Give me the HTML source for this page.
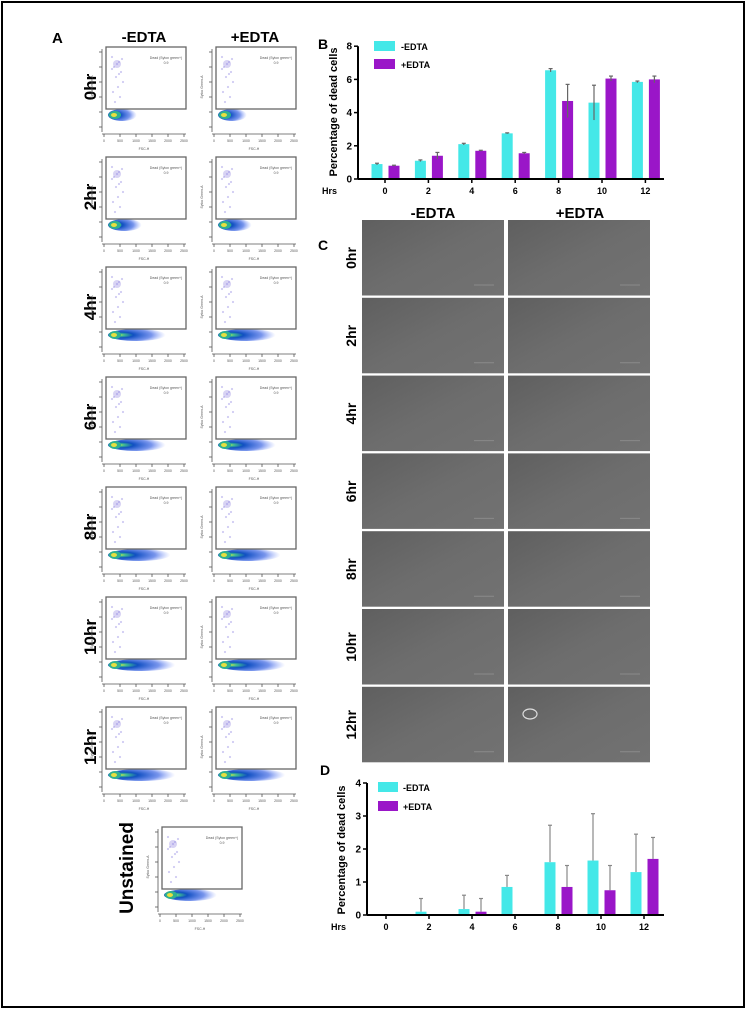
<!DOCTYPE html>
<html><head><meta charset="utf-8">
<style>
body{margin:0;background:#fff;}
svg{display:block;font-family:"Liberation Sans",sans-serif;}
</style></head>
<body>
<svg id="fig" width="747" height="1010" viewBox="0 0 747 1010">
<defs>
<radialGradient id="blob" cx="0.2" cy="0.5" r="0.8">
<stop offset="0" stop-color="#f0e040"/>
<stop offset="0.1" stop-color="#40c090"/>
<stop offset="0.3" stop-color="#1050c0"/>
<stop offset="0.7" stop-color="#2050e0" stop-opacity="0.6"/>
<stop offset="1" stop-color="#6080ff" stop-opacity="0"/>
</radialGradient>
<linearGradient id="micro" x1="0" y1="0" x2="1" y2="1">
<stop offset="0" stop-color="#5f5f5f"/>
<stop offset="0.5" stop-color="#6d6d6d"/>
<stop offset="1" stop-color="#727272"/>
</linearGradient>
</defs>
<rect x="2" y="2" width="742" height="1005" fill="#fff" stroke="#000" stroke-width="2"/>
<g id="panelA"></g>
<g id="panelB"></g>
<g id="panelC"></g>
<g id="panelD"></g>
</svg>
<script>
const rowLabels = ["0hr","2hr","4hr","6hr","8hr","10hr","12hr"];
const hours = ["0","2","4","6","8","10","12"];
const bMinus = [0.9,1.1,2.1,2.75,6.55,4.6,5.85];
const bMinusErr = [0.05,0.05,0.05,0.03,0.1,1.05,0.05];
const bPlus = [0.8,1.4,1.7,1.55,4.7,6.05,6.0];
const bPlusErr = [0.03,0.2,0.03,0.05,1.0,0.15,0.2];
const bTicks = [0,2,4,6,8];
const dMinus = [0,0.1,0.18,0.85,1.6,1.65,1.3];
const dMinusErr = [0,0.4,0.42,0.35,1.12,1.42,1.15];
const dPlus = [0,0,0.1,0,0.85,0.75,1.7];
const dPlusErr = [0,0,0.4,0,0.65,0.75,0.65];
const dTicks = [0,1,2,3,4];

const NS="http://www.w3.org/2000/svg";
function mk(parent,tag,attrs,text){const e=document.createElementNS(NS,tag);for(const k in attrs)e.setAttribute(k,attrs[k]);if(text!==undefined)e.textContent=text;parent.appendChild(e);return e;}

// ---------- Panel A ----------
const A=document.getElementById('panelA');
let t;
t=mk(A,'text',{x:52,y:43,'font-size':15,'font-weight':'bold'},'A');


t=mk(A,'text',{x:144,y:42,'font-size':15,'font-weight':'bold','text-anchor':'middle'},'-EDTA');


t=mk(A,'text',{x:255,y:42,'font-size':15,'font-weight':'bold','text-anchor':'middle'},'+EDTA');



function flowPlot(x0,y0,spread,name){
  const g=mk(A,'g',{});
  
  
  for(let i=0;i<14;i++){
    mk(g,'circle',{cx:x0+6+(i*7)%12,cy:y0+10+(i*5)%48,r:1.1,fill:'#8a80e0','fill-opacity':0.4});
  }
  mk(g,'ellipse',{cx:x0+11,cy:y0+17,rx:4,ry:4,fill:'#9080e0','fill-opacity':0.35});
  const rx=12+spread*1.2;
  mk(g,'ellipse',{cx:x0+2+rx,cy:y0+68,rx:rx,ry:6,fill:'url(#blob)'});
  mk(g,'ellipse',{cx:x0+9,cy:y0+68,rx:6,ry:4,fill:'#30b090'});
  mk(g,'ellipse',{cx:x0+8,cy:y0+68,rx:3,ry:2,fill:'#e8e040'});
  mk(g,'rect',{x:x0,y:y0,width:80,height:62,fill:'none',stroke:'#666','stroke-width':1.3});
  mk(g,'text',{x:x0+60,y:y0+12,'font-size':3.5,fill:'#555','text-anchor':'middle'},'Dead (Sytox green+)');
  mk(g,'text',{x:x0+60,y:y0+17,'font-size':3.5,fill:'#555','text-anchor':'middle'},'0.9');
  mk(g,'line',{x1:x0-4,y1:y0+2,x2:x0-4,y2:y0+85,stroke:'#555','stroke-width':0.8});
  mk(g,'line',{x1:x0-4,y1:y0+87,x2:x0+80,y2:y0+87,stroke:'#555','stroke-width':0.8});
  for(let i=0;i<6;i++){mk(g,'line',{x1:x0-2+i*16,y1:y0+87,x2:x0-2+i*16,y2:y0+90,stroke:'#555','stroke-width':0.8});
    mk(g,'text',{x:x0-2+i*16,y:y0+95,'font-size':3.5,fill:'#555','text-anchor':'middle'},i*500);}
  for(let i=0;i<6;i++){mk(g,'line',{x1:x0-7,y1:y0+5+i*15,x2:x0-4,y2:y0+5+i*15,stroke:'#555','stroke-width':0.8});}
  mk(g,'text',{x:x0+38,y:y0+103,'font-size':3.5,fill:'#555','text-anchor':'middle'},'FSC-H');
  mk(g,'text',{x:0,y:0,'font-size':3.5,fill:'#555','text-anchor':'middle',transform:`translate(${x0-13},${y0+40}) rotate(-90)`},'Sytox Green-A');
}
const spreads=[2,4,14,14,16,18,18];
rowLabels.forEach((lab,i)=>{
  const y0=47+i*110;
  t=mk(A,'text',{x:0,y:0,'font-size':17,'font-weight':'bold','text-anchor':'middle',transform:`translate(${96},${y0+40}) rotate(-90)`},lab);
  
  
  flowPlot(106,y0,spreads[i],'flow-plot-minus-edta-'+lab);
  flowPlot(216,y0,spreads[i],'flow-plot-plus-edta-'+lab);
});
t=mk(A,'text',{x:0,y:0,'font-size':19,'font-weight':'bold','text-anchor':'middle',transform:`translate(${133},${868}) rotate(-90)`},'Unstained');


flowPlot(162,827,12,'flow-plot-unstained');

// ---------- bar chart helper ----------
function barChart(G,cfg){
  const {x0,xEnd,yBase,pxPerUnit,tickX0,tickStep,minus,minusErr,plus,plusErr,ticks,errColor,errBoth,prefix}=cfg;
  const ys=v=>yBase-v*pxPerUnit;
  const xs=i=>tickX0+i*tickStep;
  minus.forEach((v,i)=>{
    const cx=xs(i)-8;
    const e=minusErr[i];
    if(e>0 && !errBoth){
      mk(G,'line',{x1:cx,y1:ys(v),x2:cx,y2:ys(v+e),stroke:errColor,'stroke-width':1.2});
      mk(G,'line',{x1:cx-2,y1:ys(v+e),x2:cx+2,y2:ys(v+e),stroke:errColor,'stroke-width':1.2});
    }
    const r=mk(G,'rect',{x:cx-5.5,y:ys(v),width:11,height:v*pxPerUnit,fill:'#44e8e8'});
    
    
    if(e>0 && errBoth){
      mk(G,'line',{x1:cx,y1:ys(v-e),x2:cx,y2:ys(v+e),stroke:errColor,'stroke-width':1.2});
      mk(G,'line',{x1:cx-2,y1:ys(v+e),x2:cx+2,y2:ys(v+e),stroke:errColor,'stroke-width':1.2});
    }
  });
  plus.forEach((v,i)=>{
    const cx=xs(i)+9;
    const e=plusErr[i];
    if(e>0 && !errBoth){
      mk(G,'line',{x1:cx,y1:ys(v),x2:cx,y2:ys(v+e),stroke:errColor,'stroke-width':1.2});
      mk(G,'line',{x1:cx-2,y1:ys(v+e),x2:cx+2,y2:ys(v+e),stroke:errColor,'stroke-width':1.2});
    }
    const r=mk(G,'rect',{x:cx-5.5,y:ys(v),width:11,height:v*pxPerUnit,fill:'#9a16c8'});
    
    
    if(e>0 && errBoth){
      mk(G,'line',{x1:cx,y1:ys(v-e),x2:cx,y2:ys(v+e),stroke:errColor,'stroke-width':1.2});
      mk(G,'line',{x1:cx-2,y1:ys(v+e),x2:cx+2,y2:ys(v+e),stroke:errColor,'stroke-width':1.2});
    }
  });
  const ya=mk(G,'line',{x1:x0,y1:ys(ticks[ticks.length-1]),x2:x0,y2:yBase,stroke:'#000','stroke-width':2});
  
  
  const xa=mk(G,'line',{x1:x0,y1:yBase,x2:xEnd,y2:yBase,stroke:'#000','stroke-width':2});
  
  
  ticks.forEach(v=>{
    mk(G,'line',{x1:x0-4,y1:ys(v),x2:x0,y2:ys(v),stroke:'#000','stroke-width':1.5});
    const tt=mk(G,'text',{x:x0-6,y:ys(v)+3.5,'font-size':10,'font-weight':'bold','text-anchor':'end'},v);
    
    
  });
  hours.forEach((h,i)=>{
    mk(G,'line',{x1:xs(i),y1:yBase,x2:xs(i),y2:yBase+4,stroke:'#000','stroke-width':1.5});
    const tt=mk(G,'text',{x:xs(i),y:yBase+15,'font-size':9,'font-weight':'bold','text-anchor':'middle'},h);
    
    
  });
  const hr=mk(G,'text',{x:x0-36,y:yBase+15,'font-size':9,'font-weight':'bold'},'Hrs');
  
  
}

// ---------- Panel B ----------
const B=document.getElementById('panelB');
t=mk(B,'text',{x:318,y:49,'font-size':14,'font-weight':'bold'},'B');


barChart(B,{x0:358,xEnd:664,yBase:179,pxPerUnit:16.6,tickX0:385,tickStep:43.4,minus:bMinus,minusErr:bMinusErr,plus:bPlus,plusErr:bPlusErr,ticks:bTicks,errColor:'#666',errBoth:true,prefix:'b'});
t=mk(B,'text',{x:0,y:0,'font-size':11,'font-weight':'bold','text-anchor':'middle',transform:'translate(337,112) rotate(-90)'},'Percentage of dead cells');


t=mk(B,'rect',{x:374,y:41,width:21,height:10,fill:'#44e8e8'});


t=mk(B,'text',{x:401,y:50,'font-size':9,'font-weight':'bold'},'-EDTA');


t=mk(B,'rect',{x:374,y:59,width:21,height:10,fill:'#9a16c8'});


t=mk(B,'text',{x:401,y:68,'font-size':9,'font-weight':'bold'},'+EDTA');



// ---------- Panel C ----------
const C=document.getElementById('panelC');
t=mk(C,'text',{x:318,y:250,'font-size':14,'font-weight':'bold'},'C');


t=mk(C,'text',{x:433,y:218,'font-size':15,'font-weight':'bold','text-anchor':'middle'},'-EDTA');


t=mk(C,'text',{x:580,y:218,'font-size':15,'font-weight':'bold','text-anchor':'middle'},'+EDTA');


rowLabels.forEach((lab,i)=>{
  const y0=220+i*77.8;
  t=mk(C,'text',{x:0,y:0,'font-size':14,'font-weight':'bold','text-anchor':'middle',transform:`translate(${356},${y0+38}) rotate(-90)`},lab);
  
  
  [[362,'minus-edta'],[508,'plus-edta']].forEach(([x,n])=>{
    const r=mk(C,'rect',{x:x,y:y0,width:142,height:75.5,fill:'url(#micro)'});
    
    
    mk(C,'line',{x1:x+112,y1:y0+65,x2:x+132,y2:y0+65,stroke:'#8a8a8a','stroke-width':1});
  });
});
mk(C,'ellipse',{cx:530,cy:714,rx:7,ry:5,fill:'none',stroke:'#ddd','stroke-width':1.2});

// ---------- Panel D ----------
const D=document.getElementById('panelD');
t=mk(D,'text',{x:320,y:775,'font-size':14,'font-weight':'bold'},'D');


barChart(D,{x0:367,xEnd:664,yBase:915,pxPerUnit:33,tickX0:386,tickStep:43,minus:dMinus,minusErr:dMinusErr,plus:dPlus,plusErr:dPlusErr,ticks:dTicks,errColor:'#888',errBoth:false,prefix:'d'});
t=mk(D,'text',{x:0,y:0,'font-size':11,'font-weight':'bold','text-anchor':'middle',transform:'translate(345,850) rotate(-90)'},'Percentage of dead cells');


t=mk(D,'rect',{x:378,y:782,width:20,height:10,fill:'#44e8e8'});


t=mk(D,'text',{x:403,y:791,'font-size':9,'font-weight':'bold'},'-EDTA');


t=mk(D,'rect',{x:378,y:801,width:20,height:10,fill:'#9a16c8'});


t=mk(D,'text',{x:403,y:810,'font-size':9,'font-weight':'bold'},'+EDTA');


</script>
</body></html>
